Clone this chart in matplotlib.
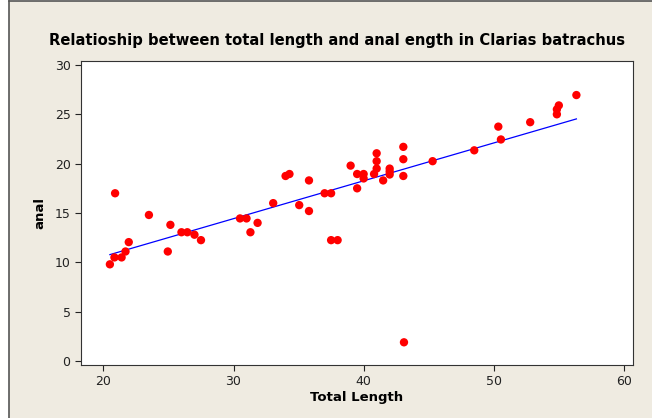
import numpy as np
import matplotlib
matplotlib.use("Agg")
import matplotlib.pyplot as plt
from matplotlib.lines import Line2D
from matplotlib.patches import Rectangle

## Data
total_length = [20.5, 20.9, 20.85, 21.4, 21.7, 21.95, 23.5, 24.95, 25.15, 26.0,
                26.45, 27.0, 27.5, 30.5, 31.0, 31.3, 31.85, 33.05, 34.0, 34.3,
                35.05, 35.8, 35.8, 37.0, 37.5, 37.5, 38.0, 39.0, 39.5, 40.0,
                40.0, 39.5, 40.8, 41.0, 41.0, 41.0, 41.5, 42.0, 42.0, 42.0,
                43.05, 43.05, 43.05, 43.1, 45.3, 48.5, 50.35, 50.55, 52.8, 54.85,
                54.85, 55.0, 56.35]
anal = [9.8, 17.0, 10.5, 10.5, 11.1, 12.05, 14.8, 11.1, 13.8, 13.05,
        13.05, 12.8, 12.25, 14.45, 14.45, 13.05, 14.0, 16.0, 18.75, 18.95,
        15.8, 18.3, 15.2, 17.0, 17.0, 12.25, 12.25, 19.8, 18.95, 18.95,
        18.5, 17.5, 18.95, 19.5, 20.25, 21.05, 18.3, 19.5, 19.2, 18.9,
        21.7, 20.45, 18.75, 1.9, 20.25, 21.35, 23.75, 22.45, 24.2, 25.0,
        25.5, 25.9, 26.95]

## Fitted line (least squares on the data)
slope, intercept = np.polyfit(total_length, anal, 1)
x_fit = np.array([min(total_length), max(total_length)])
y_fit = intercept + slope * x_fit

bg = "#EFEBE1"

fig = plt.figure(figsize=(6.52, 4.18), dpi=100, facecolor="white")
fig.patches.append(Rectangle((9 / 652, 0), 1, 1 - 1 / 418, transform=fig.transFigure,
                             facecolor=bg, edgecolor="none", zorder=-10))
fig.lines.append(Line2D([9 / 652, 9 / 652], [0, 1 - 1 / 418], transform=fig.transFigure,
                        color="#555555", lw=1.2))
fig.lines.append(Line2D([9 / 652, 1], [1 - 1 / 418, 1 - 1 / 418], transform=fig.transFigure,
                        color="#555555", lw=1.2))

ax = fig.add_axes([81 / 652, 53 / 418, 552 / 652, 304 / 418])
ax.set_facecolor("white")
ax.scatter(total_length, anal, s=36, color="red", edgecolors="none", zorder=3)
ax.plot(x_fit, y_fit, color="blue", lw=0.9, zorder=2)

ax.set_xlim(18.28, 60.7)
ax.set_ylim(-0.4, 30.4)
ax.set_xticks([20, 30, 40, 50, 60])
ax.set_yticks([0, 5, 10, 15, 20, 25, 30])
ax.tick_params(direction="out", length=4, width=0.8, labelsize=9, colors="#222222")
for sp in ax.spines.values():
    sp.set_color("#333333")
    sp.set_linewidth(0.8)

ax.set_xlabel("Total Length", fontsize=9.5, fontweight="bold", labelpad=2)
ax.set_ylabel("anal", fontsize=9.5, fontweight="bold", labelpad=6)
fig.text(337 / 652, 1 - 40 / 418, "Relatioship between total length and anal ength in Clarias batrachus",
         ha="center", va="center", fontsize=10.6, fontweight="bold")

fig.savefig("out.png", dpi=100, facecolor="white")
